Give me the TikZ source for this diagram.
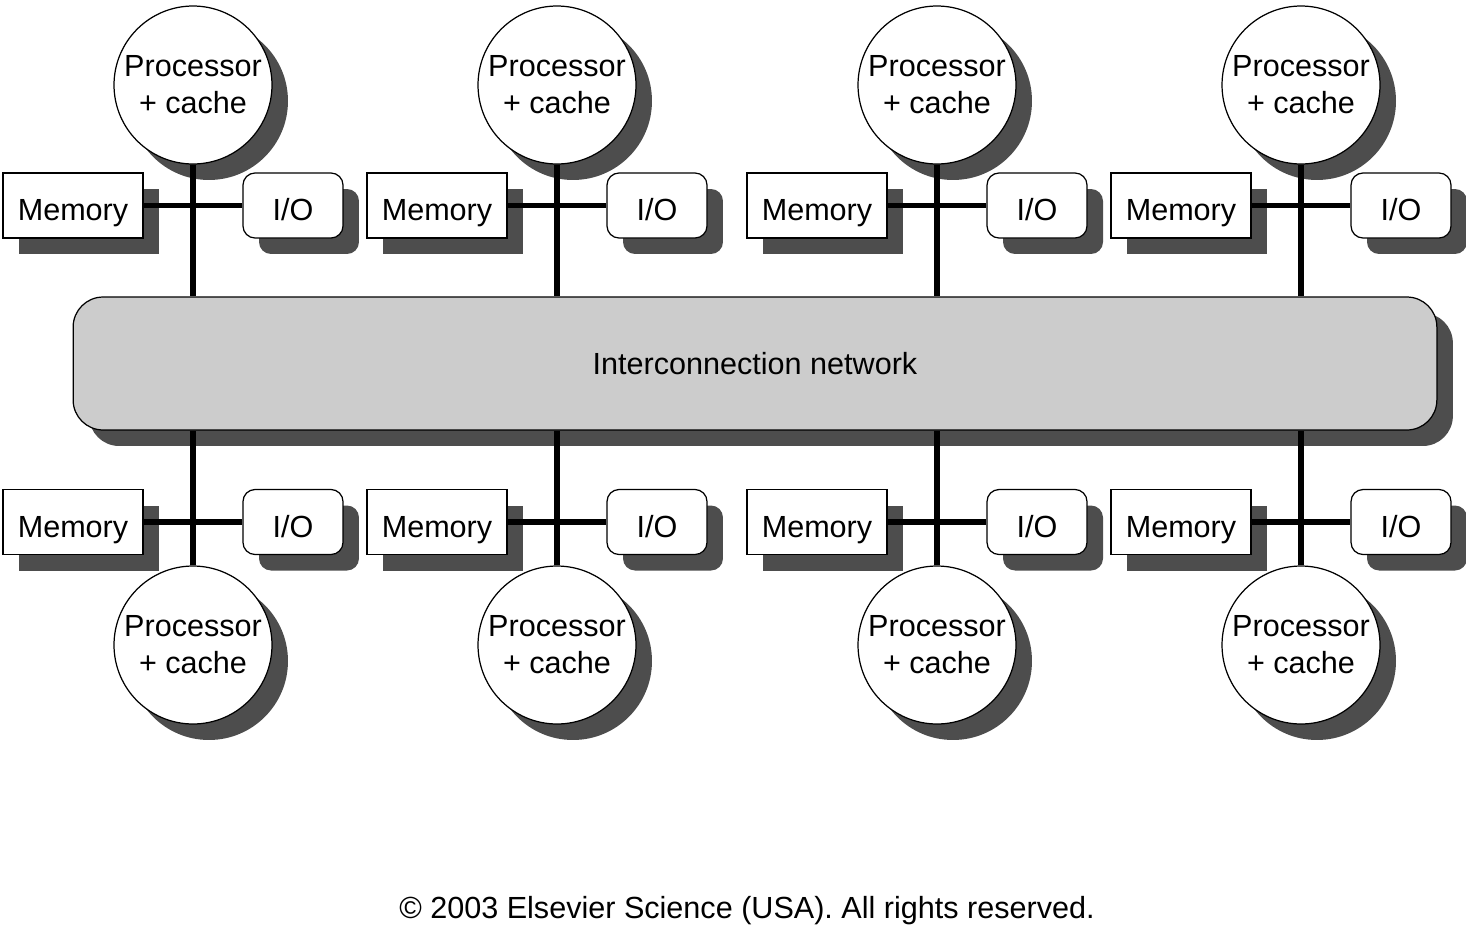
\documentclass[tikz,border=0pt]{standalone}
\usepackage{fontspec}
\setmainfont{Liberation Sans}
\usetikzlibrary{shadows}
\definecolor{shadowgray}{HTML}{4D4D4D}
\definecolor{netgray}{HTML}{CCCCCC}
\begin{document}
\begin{tikzpicture}[x=0.02cm,y=-0.02cm,
	dropshade/.style={drop shadow={shadow xshift=0.32cm,shadow yshift=-0.32cm,fill=shadowgray,opacity=1}},
	proc/.style={circle,draw,line width=0.7pt,fill=white,minimum size=3.16cm,inner sep=0pt,align=center,font=\mynodefont,dropshade},
	mem/.style={rectangle,draw,line width=0.7pt,fill=white,minimum width=2.8cm,minimum height=1.3cm,inner sep=0pt,text height=17.6pt,text depth=0pt,font=\mynodefont,dropshade},
	io/.style={rectangle,rounded corners=0.24cm,draw,line width=0.7pt,fill=white,minimum width=2cm,minimum height=1.3cm,inner sep=0pt,text height=17.6pt,text depth=0pt,font=\mynodefont,dropshade},
	net/.style={rectangle,rounded corners=0.6cm,draw,line width=0.7pt,fill=netgray,minimum width=27.28cm,minimum height=2.66cm,inner sep=0pt,font=\mynodefont,dropshade},
	bus/.style={line width=3pt}]
			\newcommand{\mynodefont}{\fontsize{17.4}{21}\selectfont}
			\useasboundingbox (0,0) rectangle (1466,927);
			%The interconnection network in the middle
			\node [net] (net) at (755,363.5) {Interconnection network};
			%One column per node: upper half and lower half
			\foreach \i/\x in {1/193,2/557,3/937,4/1301} {
				%Upper node
				\node [proc] (uproc\i) at (\x,85) {Processor\\+ cache};
				\node [mem] (umem\i) at (\x-120,205.5) {Memory};
				\node [io] (uio\i) at (\x+100,205.5) {I/O};
				\draw [bus] (uproc\i.south) -- (uproc\i.south |- net.north);
				\draw [bus] (umem\i.east) -- (uio\i.west);
				%Lower node
				\node [proc] (lproc\i) at (\x,645) {Processor\\+ cache};
				\node [mem] (lmem\i) at (\x-120,522) {Memory};
				\node [io] (lio\i) at (\x+100,522) {I/O};
				\draw [bus] (lproc\i.north) -- (lproc\i.north |- net.south);
				\draw [bus] (lmem\i.east) -- (lio\i.west);
			}
			%Copyright line
			\node [font=\mynodefont] (copyright) at (747,911) {© 2003 Elsevier Science (USA). All rights reserved.};
\end{tikzpicture}
\end{document}
